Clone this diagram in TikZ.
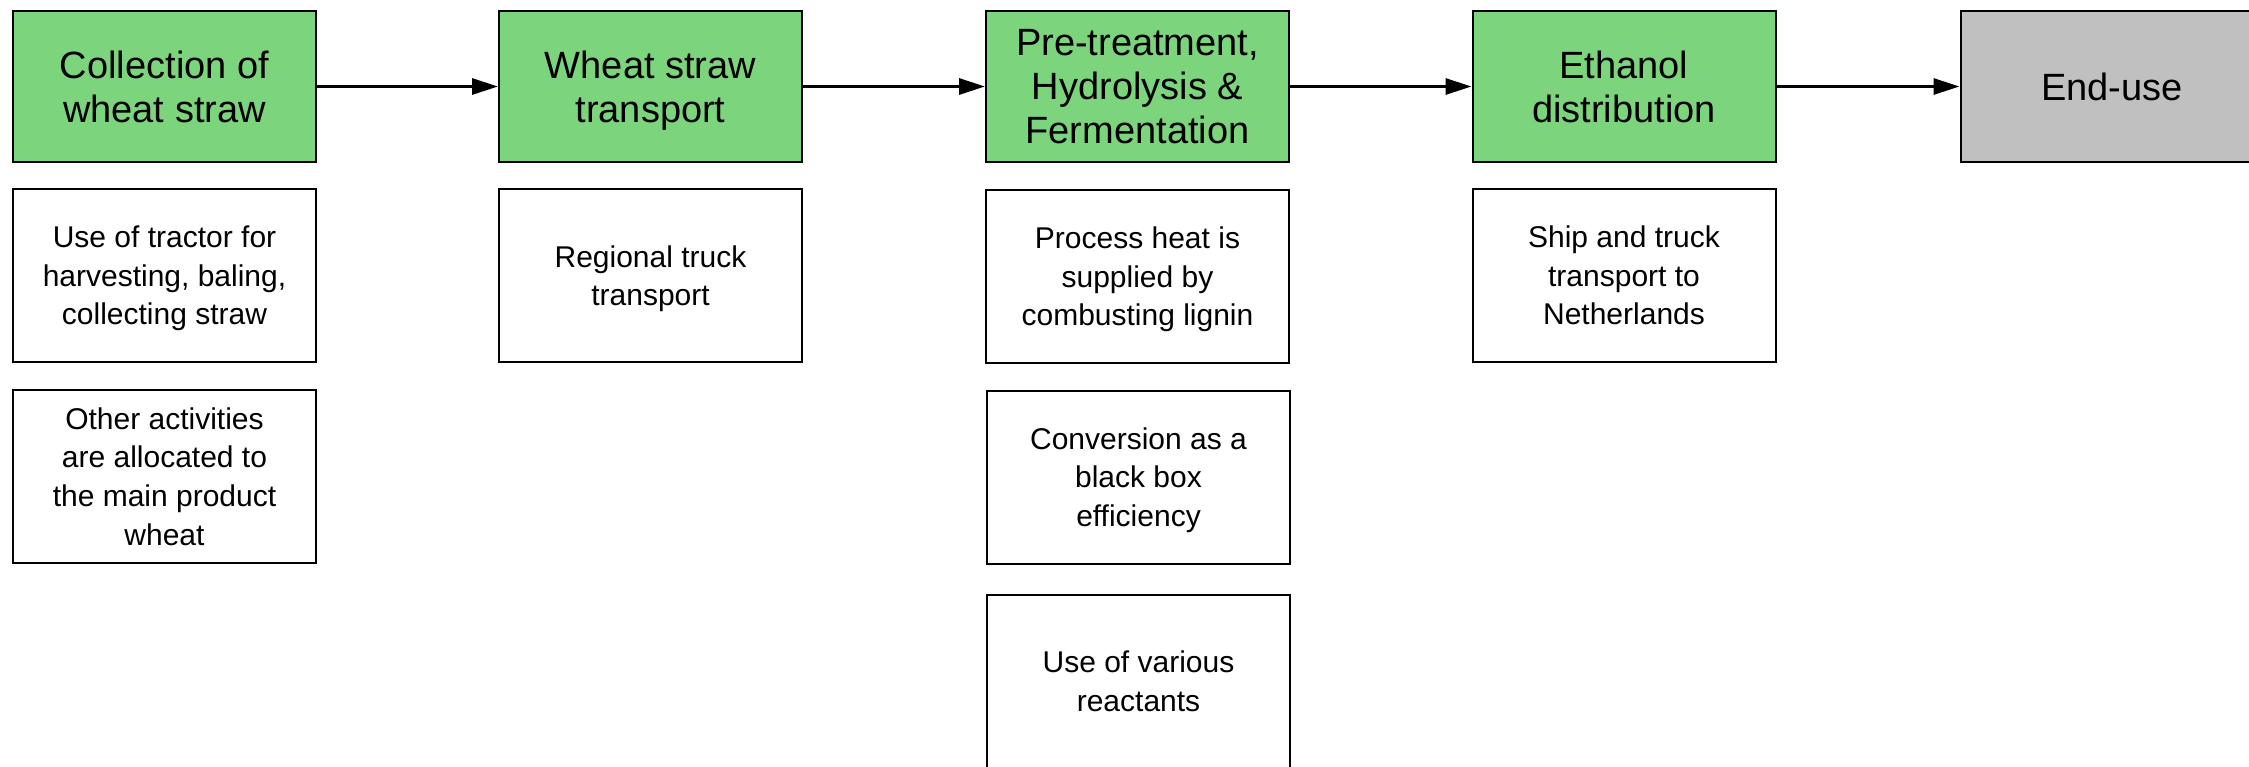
\documentclass[tikz,border=0pt]{standalone}
\usepackage{fontspec}
\setmainfont{Liberation Sans}
\usetikzlibrary{arrows.meta}
\definecolor{boxgreen}{HTML}{7CD47C}
\definecolor{boxgrey}{HTML}{C0C0C0}
\newcommand{\lastline}[1]{\smash{#1}}
\begin{document}
\begin{tikzpicture}[x=0.5pt,y=-0.5pt,
  stage/.style={draw=black, line width=1pt, fill=boxgreen, minimum width=151.5pt, minimum height=75.5pt, align=center, font=\fontsize{19}{22}\selectfont, inner sep=0pt},
  note/.style={draw=black, line width=1pt, fill=white, minimum width=151.5pt, minimum height=86.5pt, align=center, font=\fontsize{15}{19.3}\selectfont, inner sep=0pt},
  flow/.style={line width=1.5pt, -{Triangle[length=13pt,width=8pt]}}]
\useasboundingbox (0,0) rectangle (2249,766);
% stages
\node[stage] (s1) at (164.5,86.5) {Collection of\\wheat straw};
\node[stage] (s2) at (650.5,86.5) {Wheat straw\\\lastline{transport}};
\node[stage] (s3) at (1137.5,86.5) {Pre-treatment,\\Hydrolysis \&\\Fermentation};
\node[stage] (s4) at (1624,86.5) {Ethanol\\distribution};
\node[stage, fill=boxgrey] (s5) at (2112,86.5) {End-use};
% notes
\node[note] (n11) at (164.5,275.5) {Use of tractor for\\harvesting, baling,\\\lastline{collecting straw}};
\node[note] (n12) at (164.5,476.5) {Other activities\\are allocated to\\the main product\\wheat};
\node[note] (n21) at (650.5,275.5) {Regional truck\\\lastline{transport}};
\node[note] (n31) at (1137.5,276.5) {Process heat is\\supplied by\\\lastline{combusting lignin}};
\node[note] (n32) at (1138.5,477) {Conversion as a\\black box\\\lastline{efficiency}};
\node[note] (n33) at (1138.5,681.5) {Use of various\\reactants};
\node[note] (n41) at (1624,275.5) {Ship and truck\\transport to\\Netherlands};
% flows
\draw[flow] (s1) -- (s2);
\draw[flow] (s2) -- (s3);
\draw[flow] (s3) -- (s4);
\draw[flow] (s4) -- (s5);
\end{tikzpicture}
\end{document}
